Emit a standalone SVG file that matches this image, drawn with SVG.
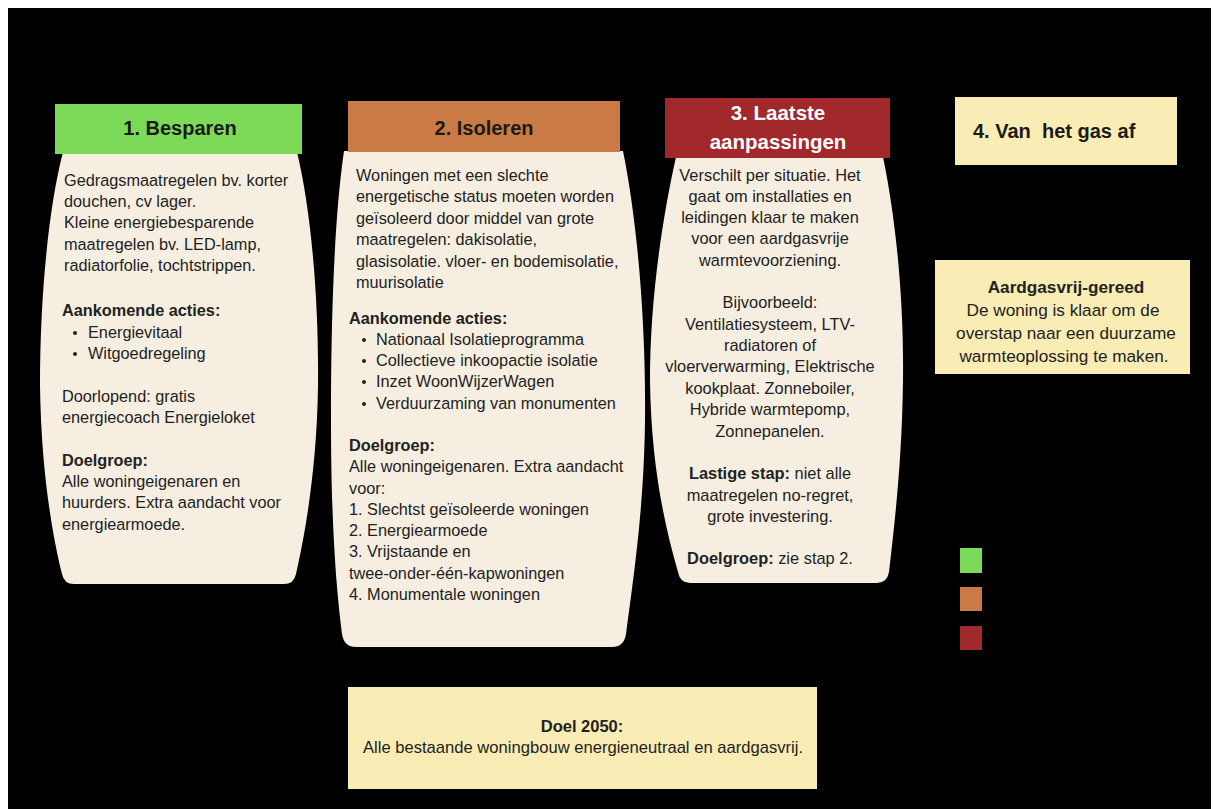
<svg xmlns="http://www.w3.org/2000/svg" width="1214" height="809" viewBox="0 0 1214 809">
<style>
text{font-family:"Liberation Sans",Arial,sans-serif;fill:#222;}
.b{font-size:16.3px;}
.c3{font-size:16.4px;text-anchor:middle;}
.bold{font-weight:bold;}
.hd{font-size:20px;font-weight:bold;text-anchor:middle;fill:#1a1a1a;}
.body{fill:#F6EFE1;}
.yel{fill:#F9ECB4;}
.y17{font-size:17.2px;text-anchor:middle;}
</style>
<rect x="0" y="0" width="1214" height="809" fill="#ffffff"/>
<rect x="8" y="8" width="1203" height="801" fill="#000000"/>

<g id="card1">
<path class="body" d="M63,152 L297,152 C311,210 319,300 318,385 C317,465 306,530 296,574 Q294,584 284,584 L74,584 Q64,584 62,574 C51,530 41,465 40,385 C40,300 48,210 63,152 Z"/>
<rect x="55" y="104" width="247" height="50" fill="#7DDA58"/>
<text class="hd" x="180" y="135">1. Besparen</text>
<text class="b" x="64" y="186">Gedragsmaatregelen bv. korter</text>
<text class="b" x="64" y="207">douchen, cv lager.</text>
<text class="b" x="64" y="228">Kleine energiebesparende</text>
<text class="b" x="64" y="250">maatregelen bv. LED-lamp,</text>
<text class="b" x="64" y="271">radiatorfolie, tochtstrippen.</text>
<text class="b bold" x="62" y="316">Aankomende acties:</text>
<circle cx="75" cy="333" r="2" fill="#222"/>
<text class="b" x="88" y="338">Energievitaal</text>
<circle cx="75" cy="354" r="2" fill="#222"/>
<text class="b" x="88" y="359">Witgoedregeling</text>
<text class="b" x="62" y="402">Doorlopend: gratis</text>
<text class="b" x="62" y="423">energiecoach Energieloket</text>
<text class="b bold" x="62" y="466">Doelgroep:</text>
<text class="b" x="62" y="487">Alle woningeigenaren en</text>
<text class="b" x="62" y="508">huurders. Extra aandacht voor</text>
<text class="b" x="62" y="530">energiearmoede.</text>
</g>

<g id="card2">
<path class="body" d="M344,151 L623,151 C637,220 646,320 645,420 C644,510 633,580 626,634 Q624,647 612,647 L356,647 Q344,647 342,634 C335,580 331,510 331,420 C331,320 334,220 344,151 Z"/>
<rect x="348" y="101" width="272" height="51" fill="#CA7A44"/>
<text class="hd" x="484" y="135">2. Isoleren</text>
<text class="b" x="356" y="181">Woningen met een slechte</text>
<text class="b" x="356" y="202">energetische status moeten worden</text>
<text class="b" x="356" y="224">geïsoleerd door middel van grote</text>
<text class="b" x="356" y="245">maatregelen: dakisolatie,</text>
<text class="b" x="356" y="267">glasisolatie. vloer- en bodemisolatie,</text>
<text class="b" x="356" y="288">muurisolatie</text>
<text class="b bold" x="349" y="324">Aankomende acties:</text>
<circle cx="364" cy="340" r="2" fill="#222"/>
<text class="b" x="376" y="345">Nationaal Isolatieprogramma</text>
<circle cx="364" cy="361" r="2" fill="#222"/>
<text class="b" x="376" y="366">Collectieve inkoopactie isolatie</text>
<circle cx="364" cy="382" r="2" fill="#222"/>
<text class="b" x="376" y="387">Inzet WoonWijzerWagen</text>
<circle cx="364" cy="404" r="2" fill="#222"/>
<text class="b" x="376" y="409">Verduurzaming van monumenten</text>
<text class="b bold" x="349" y="451">Doelgroep:</text>
<text class="b" x="349" y="472">Alle woningeigenaren. Extra aandacht</text>
<text class="b" x="349" y="494">voor:</text>
<text class="b" x="349" y="515">1. Slechtst geïsoleerde woningen</text>
<text class="b" x="349" y="536">2. Energiearmoede</text>
<text class="b" x="349" y="557">3. Vrijstaande en</text>
<text class="b" x="349" y="579">twee-onder-één-kapwoningen</text>
<text class="b" x="349" y="600">4. Monumentale woningen</text>
</g>

<g id="card3">
<path class="body" d="M676,157 L883,157 C896,220 904,300 903,380 C902,460 895,520 889,572 Q887,583 877,583 L690,583 Q680,583 678,572 C663,520 651,460 650,380 C650,300 662,220 676,157 Z"/>
<rect x="665" y="98" width="225" height="60" fill="#A1282B"/>
<text class="hd" x="778" y="120" style="fill:#ffffff;font-size:20.5px">3. Laatste</text>
<text class="hd" x="778" y="149" style="fill:#ffffff;font-size:20.5px">aanpassingen</text>
<text class="c3" x="770" y="181">Verschilt per situatie. Het</text>
<text class="c3" x="770" y="202">gaat om installaties en</text>
<text class="c3" x="770" y="223">leidingen klaar te maken</text>
<text class="c3" x="770" y="244">voor een aardgasvrije</text>
<text class="c3" x="770" y="266">warmtevoorziening.</text>
<text class="c3" x="770" y="308">Bijvoorbeeld:</text>
<text class="c3" x="770" y="330">Ventilatiesysteem, LTV-</text>
<text class="c3" x="770" y="351">radiatoren of</text>
<text class="c3" x="770" y="372">vloerverwarming, Elektrische</text>
<text class="c3" x="770" y="394">kookplaat. Zonneboiler,</text>
<text class="c3" x="770" y="415">Hybride warmtepomp,</text>
<text class="c3" x="770" y="437">Zonnepanelen.</text>
<text class="c3" x="770" y="479"><tspan class="bold">Lastige stap:</tspan> niet alle</text>
<text class="c3" x="770" y="501">maatregelen no-regret,</text>
<text class="c3" x="770" y="522">grote investering.</text>
<text class="c3" x="770" y="564"><tspan class="bold">Doelgroep:</tspan> zie stap 2.</text>
</g>

<g id="step4">
<rect class="yel" x="955" y="97" width="222" height="68"/>
<text x="973" y="138" style="font-size:20px;font-weight:bold;white-space:pre;fill:#1a1a1a" xml:space="preserve">4. Van  het gas af</text>
</g>

<g id="aardgasvrij">
<rect class="yel" x="935" y="260" width="255" height="114"/>
<text class="y17 bold" x="1066" y="293">Aardgasvrij-gereed</text>
<text class="y17" x="1063" y="316">De woning is klaar om de</text>
<text class="y17" x="1066" y="339">overstap naar een duurzame</text>
<text class="y17" x="1064" y="362">warmteoplossing te maken.</text>
</g>

<g id="legend">
<rect x="960" y="548" width="22" height="25" fill="#7DDA58"/>
<rect x="960" y="587" width="22" height="24" fill="#CA7A44"/>
<rect x="960" y="626" width="22" height="24" fill="#A1282B"/>
</g>

<g id="doel">
<rect class="yel" x="348" y="687" width="469" height="102"/>
<text x="582" y="732" style="font-size:16.5px;font-weight:bold;text-anchor:middle">Doel 2050:</text>
<text x="583" y="753" style="font-size:16.6px;text-anchor:middle">Alle bestaande woningbouw energieneutraal en aardgasvrij.</text>
</g>

<g id="connectors"></g>
</svg>
